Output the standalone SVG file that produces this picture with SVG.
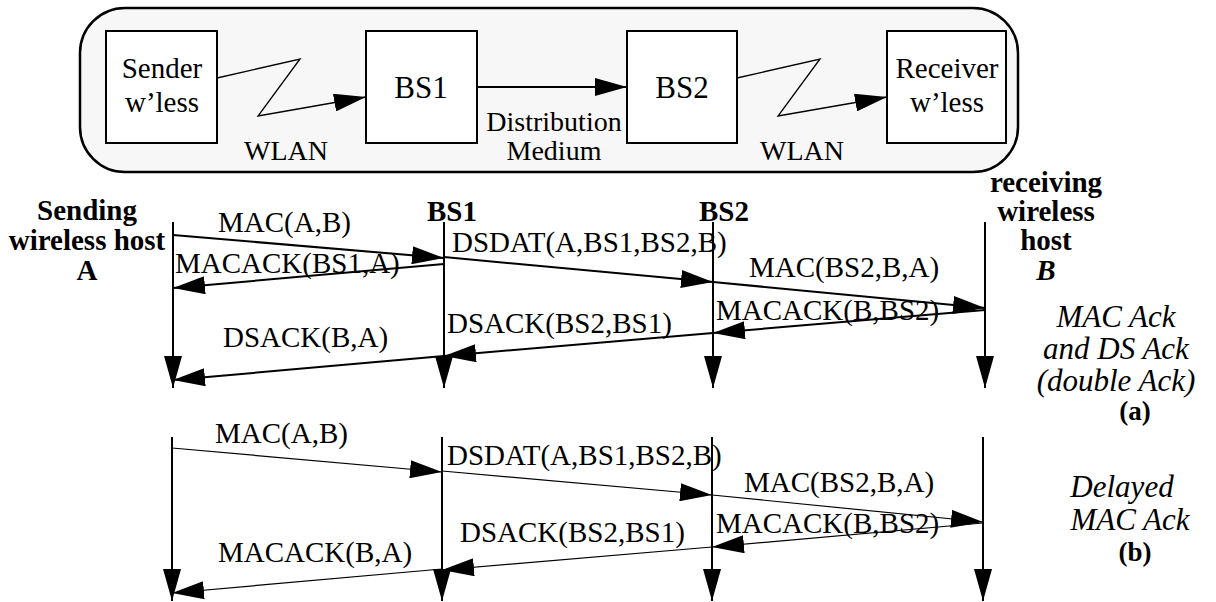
<svg xmlns="http://www.w3.org/2000/svg" width="1216" height="602" viewBox="0 0 1216 602" font-family="'Liberation Serif', 'DejaVu Serif', serif">
  <defs>
    <marker id="tip" viewBox="0 0 32 18" refX="32" refY="9" markerWidth="32" markerHeight="18" orient="auto" markerUnits="userSpaceOnUse">
      <path d="M0,0 L32,9 L0,18 z" fill="#000"/>
    </marker>
  </defs>
  <style>
    text { font-family: 'Liberation Serif', 'DejaVu Serif', serif; fill: #000; }
    .node { font-size: 31px; text-anchor: middle; }
    .node2 { font-size: 29px; text-anchor: middle; }
    .lbl { font-size: 28px; text-anchor: middle; }
    .msg { font-size: 29px; }
    .hdr { font-size: 29px; font-weight: bold; text-anchor: middle; }
    .cap { font-size: 31px; font-style: italic; text-anchor: middle; }
    .tag { font-size: 27px; font-weight: bold; text-anchor: middle; }
    .box { fill: #fff; stroke: #000; stroke-width: 2; }
    .link { fill: none; stroke: #000; stroke-width: 1.3; }
    .life { fill: none; stroke: #000; stroke-width: 2; marker-end: url(#tip); }
    .m2 { fill: none; stroke: #000; stroke-width: 2; marker-end: url(#tip); }
    .m1 { fill: none; stroke: #000; stroke-width: 1.2; marker-end: url(#tip); }
  </style>

  <!-- network overview frame -->
  <rect x="80" y="8" width="938" height="164" rx="45" ry="45" fill="#f7f7f7" stroke="#000" stroke-width="2.5"/>

  <g id="sender">
    <rect class="box" x="106" y="31" width="111" height="112"/>
    <text class="node2" x="162" y="78">Sender</text>
    <text class="node2" x="162" y="112">w’less</text>
  </g>
  <g id="bs1">
    <rect class="box" x="366" y="31" width="111" height="112"/>
    <text class="node" x="421" y="98">BS1</text>
  </g>
  <g id="bs2">
    <rect class="box" x="627" y="31" width="110" height="112"/>
    <text class="node" x="682" y="98">BS2</text>
  </g>
  <g id="receiver">
    <rect class="box" x="887" y="31" width="119" height="112"/>
    <text class="node2" x="947" y="78">Receiver</text>
    <text class="node2" x="947" y="112">w’less</text>
  </g>

  <g id="overview-links">
    <polyline class="link" points="217,78 300,59 258,116 366,97" marker-end="url(#tip)"/>
    <line x1="477" y1="87" x2="627" y2="87" stroke="#000" stroke-width="2" marker-end="url(#tip)"/>
    <polyline class="link" points="737,78 820,59 778,116 887,97" marker-end="url(#tip)"/>
    <text class="lbl" x="286" y="160">WLAN</text>
    <text class="lbl" x="554" y="131">Distribution</text>
    <text class="lbl" x="554" y="160">Medium</text>
    <text class="lbl" x="802" y="160">WLAN</text>
  </g>

  <!-- participant headings -->
  <g id="host-a">
    <text class="hdr" x="87" y="220">Sending</text>
    <text class="hdr" x="87" y="250">wireless host</text>
    <text class="hdr" x="87" y="280">A</text>
  </g>
  <g id="bs1-head"><text class="hdr" x="452" y="221">BS1</text></g>
  <g id="bs2-head"><text class="hdr" x="724" y="221">BS2</text></g>
  <g id="host-b">
    <text class="hdr" x="1046" y="192">receiving</text>
    <text class="hdr" x="1046" y="221">wireless</text>
    <text class="hdr" x="1046" y="250">host</text>
    <text class="hdr" x="1046" y="280" font-style="italic">B</text>
  </g>

  <!-- (a) double acknowledgement -->
  <g id="lifelines-a">
    <line class="life" x1="173" y1="222" x2="173" y2="388"/>
    <line class="life" x1="444" y1="222" x2="444" y2="388"/>
    <line class="life" x1="713" y1="222" x2="713" y2="388"/>
    <line class="life" x1="985" y1="222" x2="985" y2="388"/>
  </g>
  <g id="messages-a">
    <line class="m2" x1="173" y1="235" x2="444" y2="258"/>
    <line class="m2" x1="444" y1="264" x2="173" y2="288"/>
    <line class="m2" x1="444" y1="257" x2="713" y2="282"/>
    <line class="m2" x1="713" y1="282" x2="985" y2="308"/>
    <line class="m2" x1="985" y1="310" x2="713" y2="333"/>
    <line class="m2" x1="713" y1="333" x2="444" y2="356"/>
    <line class="m2" x1="444" y1="356" x2="173" y2="380"/>
    <text class="msg" x="218" y="232">MAC(A,B)</text>
    <text class="msg" x="175" y="273">MACACK(BS1,A)</text>
    <text class="msg" x="452" y="252">DSDAT(A,BS1,BS2,B)</text>
    <text class="msg" x="749" y="277">MAC(BS2,B,A)</text>
    <text class="msg" x="716" y="320">MACACK(B,BS2)</text>
    <text class="msg" x="447" y="333">DSACK(BS2,BS1)</text>
    <text class="msg" x="223" y="347">DSACK(B,A)</text>
  </g>
  <g id="caption-a">
    <text class="cap" x="1116" y="327">MAC Ack</text>
    <text class="cap" x="1116" y="359">and DS Ack</text>
    <text class="cap" x="1116" y="391">(double Ack)</text>
    <text class="tag" x="1135" y="420">(a)</text>
  </g>

  <!-- (b) delayed MAC acknowledgement -->
  <g id="lifelines-b">
    <line class="life" x1="172" y1="437" x2="172" y2="601"/>
    <line class="life" x1="442" y1="437" x2="442" y2="601"/>
    <line class="life" x1="712" y1="437" x2="712" y2="601"/>
    <line class="life" x1="983" y1="437" x2="983" y2="601"/>
  </g>
  <g id="messages-b">
    <line class="m1" x1="172" y1="448" x2="442" y2="472"/>
    <line class="m1" x1="442" y1="471" x2="712" y2="495"/>
    <line class="m1" x1="712" y1="495" x2="983" y2="522"/>
    <line class="m1" x1="983" y1="523" x2="712" y2="547"/>
    <line class="m1" x1="712" y1="547" x2="442" y2="570"/>
    <line class="m1" x1="442" y1="569" x2="172" y2="593"/>
    <text class="msg" x="215" y="443">MAC(A,B)</text>
    <text class="msg" x="447" y="465">DSDAT(A,BS1,BS2,B)</text>
    <text class="msg" x="744" y="492">MAC(BS2,B,A)</text>
    <text class="msg" x="716" y="533">MACACK(B,BS2)</text>
    <text class="msg" x="460" y="542">DSACK(BS2,BS1)</text>
    <text class="msg" x="218" y="562">MACACK(B,A)</text>
  </g>
  <g id="caption-b">
    <text class="cap" x="1122" y="497">Delayed</text>
    <text class="cap" x="1130" y="530">MAC Ack</text>
    <text class="tag" x="1135" y="561">(b)</text>
  </g>
</svg>
